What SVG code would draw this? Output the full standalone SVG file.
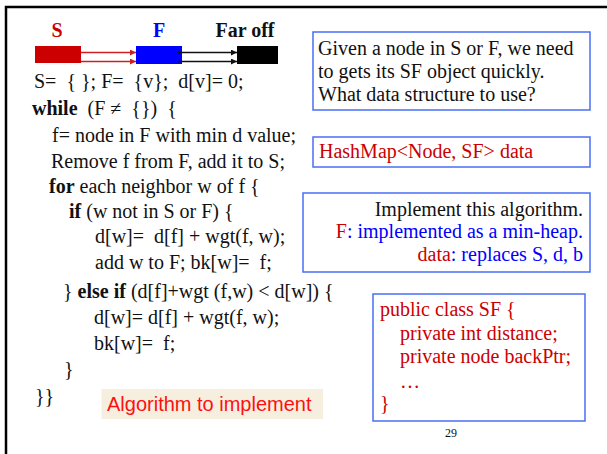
<svg xmlns="http://www.w3.org/2000/svg" width="607" height="454" viewBox="0 0 607 454">
  <defs>
    <marker id="headRed" markerWidth="6" markerHeight="6" refX="6" refY="3" orient="auto" markerUnits="userSpaceOnUse">
      <path d="M0,0 L6,3 L0,6 Z" fill="#cc2020"/>
    </marker>
    <marker id="headBlack" markerWidth="6" markerHeight="6" refX="6" refY="3" orient="auto" markerUnits="userSpaceOnUse">
      <path d="M0,0 L6,3 L0,6 Z" fill="#111"/>
    </marker>
  </defs>
  <style>
    text { font-family: "Liberation Serif", "Times New Roman", serif; font-size: 20px; fill: #111; white-space: pre; }
    .b { font-weight: bold; }
    .red { fill: #cc0000; }
    .blue { fill: #0000ff; }
    .box { fill: #fff; stroke: #4a6ef5; stroke-width: 1.5; }
    .tag { font-family: "Liberation Sans", Arial, sans-serif; font-size: 20px; fill: #ff1010; }
    .pageno { font-size: 12px; }
  </style>

  <rect width="607" height="454" fill="#fff"/>
  <!-- slide frame (top and left edges visible) -->
  <path d="M6,454 V7 H607" fill="none" stroke="#000" stroke-width="2.5"/>

  <!-- set legend: S, F, Far off -->
  <g id="set-S">
    <text x="57" y="37" class="b red" text-anchor="middle">S</text>
    <rect x="35" y="46" width="46" height="17" fill="#cc0000"/>
  </g>
  <g id="set-F">
    <text x="159" y="37" class="b blue" text-anchor="middle">F</text>
    <rect x="136" y="46" width="46" height="18" fill="#0000ff"/>
  </g>
  <g id="set-far">
    <text x="245" y="37" class="b" text-anchor="middle">Far off</text>
    <rect x="237" y="46" width="41" height="18" fill="#000"/>
  </g>

  <g id="connectors">
    <line x1="81" y1="52.5" x2="136" y2="52.5" stroke="#cc2020" stroke-width="1.3" marker-end="url(#headRed)"/>
    <line x1="81" y1="61.5" x2="136" y2="61.5" stroke="#cc2020" stroke-width="1.3" marker-end="url(#headRed)"/>
    <line x1="177" y1="52.5" x2="237" y2="52.5" stroke="#111" stroke-width="1.3" marker-end="url(#headBlack)"/>
    <line x1="177" y1="61.5" x2="237" y2="61.5" stroke="#111" stroke-width="1.3" marker-end="url(#headBlack)"/>
  </g>

  <!-- pseudocode -->
  <g id="algorithm">
    <text x="34" y="88">S=  { }; F=  {v};  d[v]= 0;</text>
    <text x="32" y="114.5"><tspan class="b">while</tspan>  (F ≠  {})  {</text>
    <text x="52" y="141.5">f= node in F with min d value;</text>
    <text x="51" y="167.5">Remove f from F, add it to S;</text>
    <text x="49" y="193"><tspan class="b">for</tspan> each neighbor w of f {</text>
    <text x="69" y="218"><tspan class="b">if</tspan> (w not in S or F) {</text>
    <text x="95" y="243">d[w]=  d[f] + wgt(f, w);</text>
    <text x="95" y="268.5">add w to F; bk[w]=  f;</text>
    <text x="63" y="298">} <tspan class="b">else if</tspan> (d[f]+wgt (f,w) &lt; d[w]) {</text>
    <text x="94" y="324">d[w]= d[f] + wgt(f, w);</text>
    <text x="94" y="350">bk[w]=  f;</text>
    <text x="64" y="376">}</text>
    <text x="35" y="402.5">}}</text>
  </g>

  <g id="label-algorithm">
    <rect x="101.5" y="389" width="221.5" height="30" fill="#f6efe0"/>
    <text x="107" y="411" class="tag">Algorithm to implement</text>
  </g>

  <g id="note-question">
    <rect x="313" y="32" width="277" height="78" class="box"/>
    <text x="318" y="55">Given a node in S or F, we need</text>
    <text x="318" y="78">to gets its SF object quickly.</text>
    <text x="318" y="101">What data structure to use?</text>
  </g>

  <g id="note-hashmap">
    <rect x="313" y="137" width="277" height="30" class="box"/>
    <text x="319" y="158" class="red">HashMap&lt;Node, SF&gt; data</text>
  </g>

  <g id="note-implement">
    <rect x="303" y="193" width="287" height="79" class="box"/>
    <text x="583" y="216" text-anchor="end">Implement this algorithm.</text>
    <text x="583" y="238" text-anchor="end"><tspan class="red">F</tspan><tspan class="blue">: implemented as a min-heap.</tspan></text>
    <text x="583" y="261" text-anchor="end"><tspan class="red">data</tspan><tspan class="blue">: replaces S, d, b</tspan></text>
  </g>

  <g id="class-SF">
    <rect x="373" y="294" width="212" height="127" class="box"/>
    <text x="380" y="316" class="red">public class SF {</text>
    <text x="400" y="340" class="red">private int distance;</text>
    <text x="400" y="363" class="red">private node backPtr;</text>
    <text x="400" y="388" class="red">…</text>
    <text x="380" y="410" class="red">}</text>
  </g>

  <text x="451" y="437" text-anchor="middle" class="pageno">29</text>
</svg>
